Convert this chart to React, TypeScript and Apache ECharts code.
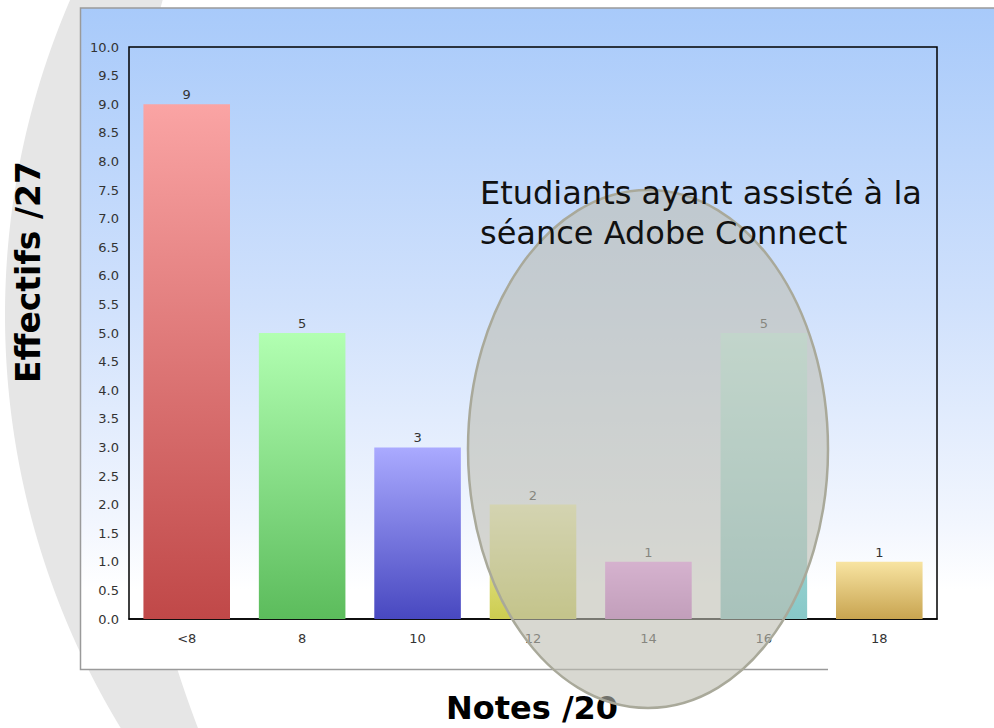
import React, { useEffect, useRef } from 'react';
import * as echarts from 'echarts';

const categories = ['<8', '8', '10', '12', '14', '16', '18'];
const counts = [9, 5, 3, 2, 1, 5, 1];
const barTopColors = ['#faa4a4', '#b2ffb2', '#aaaaff', '#f4f4b0', '#f8a0f8', '#c8f8f0', '#f8e4a2'];
const barBottomColors = ['#c04848', '#5cbc5c', '#4848c0', '#cccc50', '#c870c8', '#88c8c8', '#c8a450'];
const yMin = 0;
const yMax = 10;
const yStep = 0.5;
const yAxisTitle = 'Effectifs /27';
const xAxisTitle = 'Notes /20';
const annotationLines = ['Etudiants ayant assisté à la', 'séance Adobe Connect'];

function bandPoints(): number[][] {
  const pts: number[][] = [];
  const oc = [800, 315], orad = 795;
  const ic = [1295, 310], irad = 1174;
  for (let y = -20; y <= 748; y += 8) {
    pts.push([oc[0] - Math.sqrt(orad * orad - (y - oc[1]) ** 2), y]);
  }
  for (let y = 748; y >= -20; y -= 8) {
    pts.push([ic[0] - Math.sqrt(irad * irad - (y - ic[1]) ** 2), y]);
  }
  return pts;
}

export default function App() {
  const ref = useRef<HTMLDivElement>(null);
  useEffect(() => {
    const chart = echarts.init(ref.current!, null, { renderer: 'svg' });
    const font = '"DejaVu Sans", Verdana, sans-serif';
    const option: any = {
      animation: false,
      backgroundColor: '#ffffff',
      grid: {
        left: 129,
        top: 47,
        width: 808,
        height: 572,
        show: true,
        borderColor: '#000',
        borderWidth: 1.5,
        backgroundColor: 'transparent',
        z: 1,
      },
      xAxis: {
        type: 'category',
        data: categories,
        z: 1,
        axisLine: { show: true, lineStyle: { color: '#000', width: 1.5 } },
        axisTick: { show: false },
        axisLabel: { color: '#333', fontSize: 13, fontFamily: font, margin: 13 },
      },
      yAxis: {
        type: 'value',
        min: yMin,
        max: yMax,
        interval: yStep,
        z: 1,
        axisLine: { show: false },
        axisTick: { show: false },
        splitLine: { show: false },
        axisLabel: {
          color: '#333',
          fontSize: 13,
          fontFamily: font,
          margin: 10,
          formatter: (v: number) => v.toFixed(1),
        },
      },
      series: [
        {
          type: 'bar',
          z: 2,
          barCategoryGap: '25%',
          data: counts.map((v, i) => ({
            value: v,
            itemStyle: {
              color: new echarts.graphic.LinearGradient(0, 0, 0, 1, [
                { offset: 0, color: barTopColors[i] },
                { offset: 1, color: barBottomColors[i] },
              ]),
            },
          })),
          label: {
            show: true,
            position: 'top',
            distance: 3,
            color: '#333',
            fontSize: 13,
            fontFamily: font,
          },
        },
      ],
      graphic: [
        {
          type: 'polygon',
          z: -20,
          silent: true,
          shape: { points: bandPoints() },
          style: { fill: '#e6e6e6' },
        },
        {
          type: 'rect',
          z: -10,
          silent: true,
          shape: { x: 80, y: 8, width: 930, height: 661 },
          style: {
            fill: new echarts.graphic.LinearGradient(0, 0, 0, 1, [
              { offset: 0, color: '#a8cafa' },
              { offset: 0.45, color: '#d0e1fc' },
              { offset: 0.78, color: '#f2f6fe' },
              { offset: 0.88, color: '#ffffff' },
              { offset: 1, color: '#ffffff' },
            ]),
          },
        },
        {
          type: 'polyline',
          z: -9,
          silent: true,
          shape: { points: [[994, 8], [80.5, 8], [80.5, 669.5], [828, 669.5]] },
          style: { stroke: '#9a9a9a', lineWidth: 1.5, fill: null },
        },
        {
          type: 'text',
          z: 5,
          x: 28,
          y: 272,
          rotation: Math.PI / 2,
          style: {
            text: yAxisTitle,
            font: `bold 33px ${font}`,
            fill: '#000',
            textAlign: 'center',
            textVerticalAlign: 'middle',
          },
        },
        {
          type: 'text',
          z: 5,
          x: 532,
          y: 708,
          style: {
            text: xAxisTitle,
            font: `bold 32px ${font}`,
            fill: '#000',
            textAlign: 'center',
            textVerticalAlign: 'middle',
          },
        },
        {
          type: 'ellipse',
          z: 10,
          silent: true,
          shape: { cx: 648, cy: 449, rx: 180, ry: 259 },
          style: { fill: 'rgba(190,190,178,0.6)', stroke: '#a9a99a', lineWidth: 2.5 },
        },
        {
          type: 'text',
          z: 11,
          x: 480,
          y: 173,
          style: {
            text: annotationLines.join('\n'),
            font: `32px ${font}`,
            lineHeight: 40,
            fill: '#111',
            textAlign: 'left',
            textVerticalAlign: 'top',
          },
        },
      ],
    };
    chart.setOption(option);
    return () => chart.dispose();
  }, []);
  return (
    <div
      ref={ref}
      style={{ position: 'fixed', left: 0, top: 0, width: 994, height: 728, background: '#fff' }}
    />
  );
}
